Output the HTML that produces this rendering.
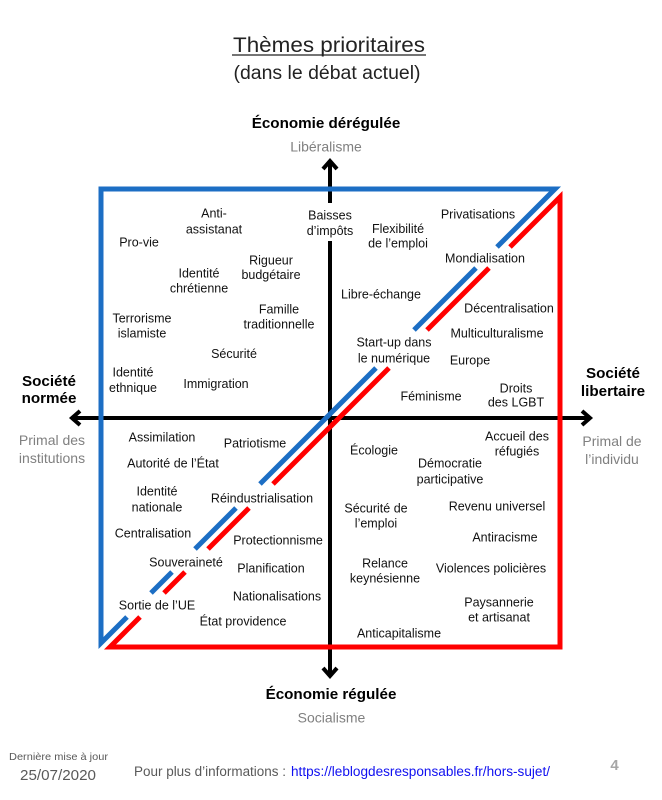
<!DOCTYPE html>
<html><head><meta charset="utf-8"><style>
html,body{margin:0;padding:0;background:#fff;}
svg{display:block;}
text{font-family:"Liberation Sans",Arial,sans-serif;}
.l{font-size:12.5px;fill:#111;text-anchor:middle;}
.b{font-size:15.2px;font-weight:bold;fill:#000;text-anchor:middle;}
.g{font-size:14px;fill:#808080;text-anchor:middle;}
</style></head><body>
<svg width="662" height="800" viewBox="0 0 662 800" xmlns="http://www.w3.org/2000/svg">
<rect width="662" height="800" fill="#fff"/>
<!-- Title -->
<text x="329" y="52" font-size="21.5" fill="#222" text-anchor="middle" textLength="192" lengthAdjust="spacingAndGlyphs">Thèmes prioritaires</text>
<line x1="232" y1="55" x2="426" y2="55" stroke="#222" stroke-width="1.3"/>
<text x="327" y="79" font-size="19" fill="#222" text-anchor="middle" textLength="187" lengthAdjust="spacingAndGlyphs">(dans le débat actuel)</text>

<!-- axis labels -->
<text class="b" x="326" y="128">Économie dérégulée</text>
<text class="g" x="326" y="151.5">Libéralisme</text>
<text class="b" x="331" y="699">Économie régulée</text>
<text class="g" x="331.5" y="722.5">Socialisme</text>
<text class="b" x="49" y="386">Société</text>
<text class="b" x="49" y="403">normée</text>
<text class="g" x="52" y="445">Primal des</text>
<text class="g" x="52" y="463">institutions</text>
<text class="b" x="613" y="378">Société</text>
<text class="b" x="613" y="396">libertaire</text>
<text class="g" x="612" y="446">Primal de</text>
<text class="g" x="612" y="464">l’individu</text>

<!-- axes -->
<g stroke="#000" stroke-width="4" fill="none">
<line x1="330" y1="162" x2="330" y2="203"/>
<line x1="330" y1="241" x2="330" y2="675"/>
<line x1="73" y1="418" x2="589" y2="418"/>
<polyline points="323,169 330,161 337,169" stroke-linejoin="miter"/>
<polyline points="323,668 330,676 337,668" stroke-linejoin="miter"/>
<polyline points="80,411 72,418 80,425" stroke-linejoin="miter"/>
<polyline points="582,411 590,418 582,425" stroke-linejoin="miter"/>
</g>

<!-- blue shape -->
<g stroke="#1C6EC4" stroke-width="5" fill="none" stroke-linejoin="miter" stroke-linecap="butt">
<polyline points="497,247 555,189 101,189 101,643 127,617"/>
<line x1="476" y1="268" x2="414" y2="330"/>
<line x1="376" y1="368" x2="260" y2="484"/>
<line x1="236" y1="508" x2="195" y2="549"/>
<line x1="172" y1="572" x2="151" y2="593"/>
</g>
<!-- red shape -->
<g stroke="#FF0000" stroke-width="5" fill="none" stroke-linejoin="miter" stroke-linecap="butt">
<polyline points="510,247 560,197 560,647 110,647 140,617"/>
<line x1="489" y1="268" x2="427" y2="330"/>
<line x1="389" y1="368" x2="273" y2="484"/>
<line x1="249" y1="508" x2="208" y2="549"/>
<line x1="185" y1="572" x2="164" y2="593"/>
</g>

<!-- top-left -->
<text class="l" x="214" y="217.5">Anti-</text>
<text class="l" x="214" y="233.5">assistanat</text>
<text class="l" x="139" y="246.5">Pro-vie</text>
<text class="l" x="199" y="277.5">Identité</text>
<text class="l" x="199" y="292.5">chrétienne</text>
<text class="l" x="271" y="264.5">Rigueur</text>
<text class="l" x="271" y="279">budgétaire</text>
<text class="l" x="142" y="322.5">Terrorisme</text>
<text class="l" x="142" y="337.5">islamiste</text>
<text class="l" x="279" y="313.5">Famille</text>
<text class="l" x="279" y="328.5">traditionnelle</text>
<text class="l" x="234" y="358">Sécurité</text>
<text class="l" x="133" y="376.5">Identité</text>
<text class="l" x="133" y="392">ethnique</text>
<text class="l" x="216" y="388">Immigration</text>
<text class="l" x="330" y="219.5">Baisses</text>
<text class="l" x="330" y="235">d’impôts</text>

<!-- top-right -->
<text class="l" x="478" y="218.5">Privatisations</text>
<text class="l" x="398" y="233">Flexibilité</text>
<text class="l" x="398" y="247.5">de l’emploi</text>
<text class="l" x="485" y="262.5">Mondialisation</text>
<text class="l" x="381" y="298.5">Libre-échange</text>
<text class="l" x="509" y="312.5">Décentralisation</text>
<text class="l" x="497" y="337.5">Multiculturalisme</text>
<text class="l" x="394" y="346.5">Start-up dans</text>
<text class="l" x="394" y="362.5">le numérique</text>
<text class="l" x="470" y="364.5">Europe</text>
<text class="l" x="431" y="400.5">Féminisme</text>
<text class="l" x="516" y="392.5">Droits</text>
<text class="l" x="516" y="406.5">des LGBT</text>

<!-- bottom-left -->
<text class="l" x="162" y="441.5">Assimilation</text>
<text class="l" x="255" y="447.5">Patriotisme</text>
<text class="l" x="173" y="467.5">Autorité de l’État</text>
<text class="l" x="157" y="495.5">Identité</text>
<text class="l" x="157" y="511.5">nationale</text>
<text class="l" x="262" y="502.5">Réindustrialisation</text>
<text class="l" x="153" y="537.5">Centralisation</text>
<text class="l" x="278" y="544.5">Protectionnisme</text>
<text class="l" x="186" y="566.5">Souveraineté</text>
<text class="l" x="271" y="572.5">Planification</text>
<text class="l" x="277" y="600.5">Nationalisations</text>
<text class="l" x="157" y="609.5">Sortie de l’UE</text>
<text class="l" x="243" y="625.5">État providence</text>

<!-- bottom-right -->
<text class="l" x="517" y="440.5">Accueil des</text>
<text class="l" x="517" y="455.5">réfugiés</text>
<text class="l" x="374" y="454.5">Écologie</text>
<text class="l" x="450" y="467.5">Démocratie</text>
<text class="l" x="450" y="483.5">participative</text>
<text class="l" x="376" y="512.5">Sécurité de</text>
<text class="l" x="376" y="527.5">l’emploi</text>
<text class="l" x="497" y="510.5">Revenu universel</text>
<text class="l" x="505" y="541.5">Antiracisme</text>
<text class="l" x="385" y="567.5">Relance</text>
<text class="l" x="385" y="582.5">keynésienne</text>
<text class="l" x="491" y="572.5">Violences policières</text>
<text class="l" x="499" y="606.5">Paysannerie</text>
<text class="l" x="499" y="621.5">et artisanat</text>
<text class="l" x="399" y="637.5">Anticapitalisme</text>

<!-- footer -->
<text x="9" y="760" font-size="10.5" fill="#595959" textLength="99" lengthAdjust="spacingAndGlyphs">Dernière mise à jour</text>
<text x="20" y="780" font-size="14.5" fill="#595959" textLength="76" lengthAdjust="spacingAndGlyphs">25/07/2020</text>
<text x="134" y="776" font-size="13.5" fill="#595959" textLength="152" lengthAdjust="spacingAndGlyphs">Pour plus d’informations :</text>
<text x="291" y="776" font-size="13.5" fill="#1010F0" textLength="259" lengthAdjust="spacingAndGlyphs">https://leblogdesresponsables.fr/hors-sujet/</text>
<text x="614.5" y="770" font-size="15" font-weight="bold" fill="#A6A6A6" text-anchor="middle">4</text>
</svg>
</body></html>
